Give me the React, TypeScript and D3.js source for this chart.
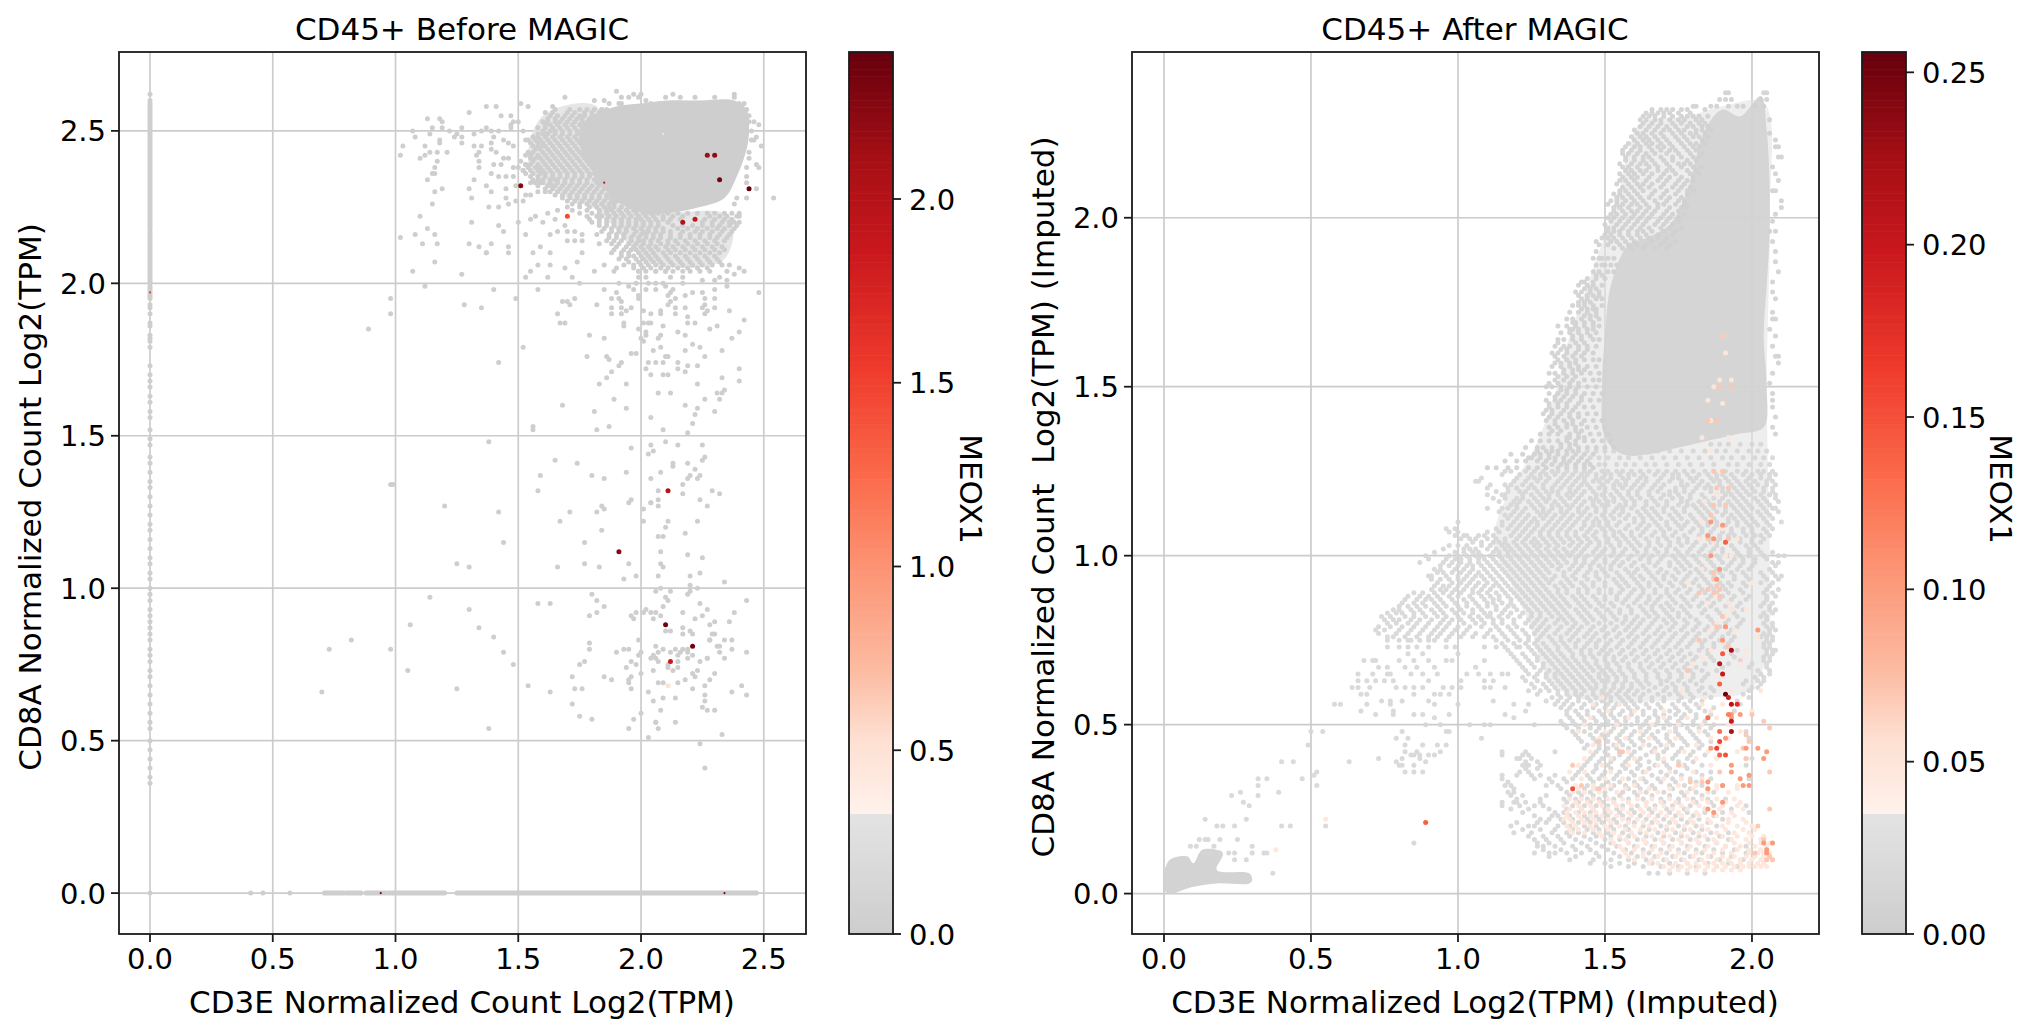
import React from 'react';
import * as d3 from 'd3';

// ---------- Tick labels ----------
const leftXTicks = [0, 0.5, 1, 1.5, 2, 2.5];
const leftYTicks = [0, 0.5, 1, 1.5, 2, 2.5];
const rightXTicks = [0, 0.5, 1, 1.5, 2];
const rightYTicks = [0, 0.5, 1, 1.5, 2];
const leftBarTicks = [0, 0.5, 1, 1.5, 2];
const rightBarTicks = [0, 0.05, 0.1, 0.15, 0.2, 0.25];

// ---------- Colormap (gray under the cut, then Reds) ----------
const cmapPos = [0, 0.135, 0.1351, 0.22, 0.3, 0.42, 0.52, 0.64, 0.77, 0.88, 1];
const cmapCol = ['#cdcdcd', '#e3e3e3', '#fff2ec', '#fee0d2', '#fcbba1', '#fc9272', '#fb6a4a', '#ef3b2c', '#cb181d', '#a50f15', '#67000d'];

// ---------- LEFT panel (values in hundredths) ----------
// saturated centre of the cloud, outline
const leftCore = [178,254,190,258,200,259,211,260,224,260,238,260,243,257,244,250,243,244,239,235,234,228,224,225,211,223,201,223,190,227,184,232,180,237,176,243,175,250];
// less saturated skirt of the cloud, outline
const leftWash = [160,255,182,258,182,234,200,224,236,222,234,208,206,206,196,212,182,224,170,228,158,234,154,240];
// x = 0 column: solid runs [y0,y1] then single dots
const leftColumnRuns = [[259,218],[217,200],[199,195]];
const leftColumnDots = [262,260,193,192,190,187,186,183,182,181,179,173,170,168,166,163,161,158,156,152,149,147,143,141,138,135,133,130,127,124,121,119,116,113,110,108,105,103,100,98,96,93,91,89,87,85,83,80,78,76,73,71,68,65,62,59,56,54,50,47,44,41,38,36,0];
// y = 0 row: solid runs [x0,x1] then single dots
const leftRowRuns = [[71,79],[80,86],[88,96],[97,120],[125,247]];
const leftRowDots = [41,46,57];
const leftGrayPairs = [107,204,116,207,127,203,112,199,98,195,98,190,89,185,128,193,135,192,140,198,149,195,158,198,153,202,155,204,158,206,162,202,163,206,169,205,172,202,174,207,175,200,181,204,185,206,189,204,190,205,137,210,146,210,156,210,163,210,176,210,168,194,170,194,173,195,171,193,166,190,167,187,169,187,182,193,185,198,190,197,188,195,191,195,192,194,188,192,192,192,188,190,192,190,194,191,196,192,193,187,193,186,179,183,185,182,152,179,142,174,178,176,186,176,187,175,192,174,191,173,196,177,198,177,188,171,186,169,183,167,194,167,189,162,168,160,181,158,194,159,156,153,156,152,182,152,187,153,204,156,209,152,219,151,221,154,222,157,223,159,218,160,230,158,226,162,232,162,231,164,233,164,234,165,240,168,240,172,233,169,223,167,212,164,207,164,204,170,209,170,211,170,218,171,202,172,203,174,206,174,209,174,215,174,215,172,219,173,223,173,205,178,208,179,210,176,211,176,218,178,224,179,226,176,233,178,221,180,237,182,240,184,242,188,236,191,248,197,200,182,202,183,201,181,207,182,208,183,215,184,218,183,199,185,202,184,201,187,203,187,204,187,209,186,219,187,222,187,228,185,231,186,226,190,227,191,230,192,225,192,226,193,230,195,226,195,225,197,221,197,218,196,218,192,219,189,214,192,214,190,208,191,208,190,201,191,204,190,211,193,212,194,214,195,211,196,212,197,199,196,199,195,202,198,206,198,210,199,213,198,230,198,235,199,235,201,197,198,195,199,191,200,198,200,203,200,206,200,209,200,217,200,230,201,225,201,232,202,235,204,238,203,240,205,242,204,217,202,212,202,210,204,206,204,202,202,199,204,199,202,
138,148,196,146,204,147,210,148,215,147,225,147,205,145,203,144,226,143,225,142,219,141,213,141,213,140,165,142,174,141,159,137,180,137,185,136,194,138,204,136,208,138,222,139,224,137,219,136,220,137,223,136,217,134,98,134,99,134,158,132,207,132,217,131,229,132,232,131,207,129,224,129,227,127,196,129,195,128,204,128,204,128,207,127,201,126,120,127,142,125,171,125,184,127,185,126,182,125,167,122,201,122,211,122,223,122,210,120,184,119,218,118,207,117,209,117,
144,115,177,115,208,112,219,111,225,110,125,108,130,107,166,107,177,108,183,107,195,108,208,108,209,107,224,105,220,104,207,104,198,104,193,103,234,102,220,101,223,100,206,99,208,100,212,99,220,99,219,98,180,98,114,97,182,96,185,94,158,95,163,95,210,97,211,96,209,94,224,95,243,96,227,93,238,92,130,93,179,91,182,92,196,91,198,92,197,90,201,92,202,93,204,92,206,92,205,90,208,91,217,92,222,90,225,91,230,89,228,88,236,89,106,88,134,87,140,84,210,86,212,86,217,87,220,86,217,85,221,85,229,85,230,85,228,83,228,83,234,83,237,83,82,83,73,80,98,80,199,83,179,82,179,80,144,79,148,75,193,80,195,80,206,81,209,80,212,79,214,80,217,80,219,80,231,81,232,81,237,80,243,79,190,79,200,79,199,78,205,78,207,79,215,78,216,79,219,79,221,78,232,79,204,77,206,77,207,76,211,75,215,76,219,77,224,76,227,77,227,77,234,77,196,76,198,75,175,75,177,76,105,73,194,74,211,74,215,74,205,73,213,73,221,72,223,73,200,72,196,71,172,71,185,71,222,71,230,72,228,70,188,70,195,70,195,69,207,69,209,69,215,69,218,70,226,68,125,67,154,68,173,67,176,67,196,67,221,67,241,68,237,66,243,65,70,66,163,66,203,66,226,65,209,64,214,64,205,63,226,63,172,62,225,61,227,60,230,60,208,60,200,59,175,58,180,57,197,57,206,56,206,56,214,56,195,54,207,54,138,54,233,52,203,51,224,49,226,41];
const leftEdgePairs = [130,256,137,258,141,258,143,255,147,255,151,259,154,258,161,256,164,258,169,261,113,254,118,254,119,253,107,250,108,248,114,249,115,251,119,251,122,250,127,251,127,248,127,246,124,248,125,249,132,249,135,250,137,251,139,250,142,250,144,247,146,246,147,252,148,253,150,253,147,251,152,250,103,245,102,242,112,245,118,247,118,246,110,241,112,242,114,243,117,243,117,240,121,243,116,238,115,236,113,234,116,236,132,245,135,245,134,243,133,242,134,240,134,238,139,246,140,248,139,244,141,243,144,241,146,241,148,245,153,247,156,248,160,245,161,249,153,242,151,240,140,239,143,239,148,238,150,238,153,239,152,237,139,236,142,235,145,235,148,235,132,234,137,232,139,230,145,231,149,232,116,230,119,231,130,231,131,228,115,226,138,225,142,225,145,228,146,226,149,227,152,227,153,229,155,229,158,230,161,230,155,233,158,234,159,233,164,232,165,234,110,222,113,218,108,216,111,213,116,216,117,213,102,215,131,220,142,219,144,217,130,213,134,212,139,213,137,210,146,212,150,220,153,216,155,221,157,222,160,220,162,223,165,221,169,219,166,217,163,216,170,217,173,217,176,216,170,214,173,214,176,214,183,213,159,212,
190,263,197,262,200,262,213,262,238,262,181,260,185,260,192,261,192,259,202,260,248,252,249,245,254,228,247,231,247,248,247,239,248,238,243,235,243,233,243,228,239,228,238,226,240,222,238,220,237,220];
const leftEdgeRows = [
[261,195,199,210,216,222,230,238],[259,187,191,204,208,213,218,224,229,234,240,242],[257,184,190,196,202,207,212,217,222,228,232,237,241,243],[255,244],[253,244,246],[250,245],[247,245,246],[243,244],[241,244],[238,243],
[256,164,170,173,177,180,183,186,188],[254,162,165,168,171,174,176,179,182,184],[252,161,163,166,169,172,175,178,181],[250,160,163,165,168,171,174,177],[248,156,158,161,164,167,170,173,176],[246,155,158,160,163,166,169,172,175],[244,157,159,162,165,168,171,174],[242,155,158,161,164,167,170,173,176],[240,156,160,163,166,169,172,175,178],[238,154,157,159,162,165,168,171,174,177,180],[236,153,156,159,161,164,167,170,173,176,179,181],[234,156,160,163,166,169,172,175,178,181,183],[232,158,162,165,168,171,174,177,180,183,185],[230,163,166,169,172,175,178,181,184,187],[228,168,171,174,177,180,183,186,188],[226,172,175,178,181,184,187,189,196,198],[224,166,172,178,183,186,188,191,194,197],
[222,178,182,184,187,190,193,196,199,202,205,209,213,217,228,232,235,239],[220,180,183,186,189,192,195,198,201,204,207,211,225,229,233,236,240],[218,185,188,191,194,197,200,203,206,209,215,219,223,227,231,234,238],[216,182,187,190,193,197,200,202,205,208,212,216,220,224,228,232,236],[214,186,189,192,196,199,201,204,207,211,214,218,222,226,230,234],[212,190,194,197,200,203,206,210,213,217,221,225,229,233],[210,188,192,195,199,202,205,209,212,216,220,224,228,232],[208,191,194,198,201,204,207,211,215,219,223,227,231],[206,193,197,200,203,206,209,213,217,221,225,229,233,236],[204,199,202,206,210,213,217,220,224,228],
[257,165,171,175,178,181,184,186],[255,163,166,169,172,175,177,180,183,186],[253,160,162,165,167,170,173,176,179,182],[251,158,161,164,167,170,173,176,179],[249,158,160,162,165,168,171,174,177],[247,154,157,159,162,165,168,171,174,177],[245,156,158,161,164,167,170,173,176],[243,154,156,160,163,166,169,172,175],[241,155,157,159,162,165,168,171,174,177],[239,153,155,158,161,164,167,170,173,176,179],[237,152,155,158,160,163,166,169,172,175,178],[235,155,158,161,164,167,170,173,176,179,182],[233,157,160,163,166,169,172,175,178,182,184],[231,161,164,167,170,173,176,179,182,185,188],[229,165,168,171,174,177,180,183,186,188],[227,170,173,176,179,182,185,188,190],[225,170,175,179,182,185,187,189,192,195,198],[223,175,180,183,186,189,192,195,198,201,204,207,211,215,219,223,227,230,234,237,240],[221,179,183,186,189,192,195,198,200,203,206,209,212,216,226,230,234,237],[219,183,186,189,192,195,198,201,204,207,213,217,221,225,229,232,236,239],[217,184,188,191,194,198,201,203,206,209,212,217,222,225,229,233,237],[215,187,190,193,196,199,202,205,208,212,216,220,224,228,231,235],[213,188,191,195,198,201,204,208,211,215,219,223,227,231],[211,189,193,196,198,201,204,207,211,214,218,222,226,230,234],[209,192,195,197,200,203,206,210,214,218,222,226,230],[207,195,199,202,205,208,212,216,220,224,228,232],[205,197,201,204,208,211,215,219,223,227]
];
// coloured cells [x, y, MEOX1]
const leftColored = [[227,242,2.15],[230,242,2.2],[244,231,2.4],[151,232,2.25],[232,234,2.35],[170,222,1.45],[217,220,2.05],[222,221,1.9],[211,132,2.0],[191,112,2.25],[210,88,2.35],[221,81,2.35],[212,76,1.85],[211,68,0.5]];
// cells nearly hidden behind gray ones: only a sliver shows
const leftSlivers = [[94,0,2.3],[234,0,2.3],[0,197,1.5],[209,249,0.5],[185,233,1.9]];

// ---------- RIGHT panel (values in hundredths) ----------
const rightCore = [158,192,164,194,172,198,178,208,184,226,190,232,196,230,203,236,205,226,206,210,206,195,205,180,204,165,205,150,204,138,195,136,185,134,175,132,165,130,156,130,150,135,149,150,150,165,152,180];
// less saturated body of the cloud, outline
const rightWash = [162,228,178,230,190,233,204,234,206,200,205,150,206,100,205,70,199,60,185,58,140,58,130,65,125,78,118,92,112,104,118,120,125,130,132,145,138,165,146,185,154,205,158,220];
const rightBlob = [0,3,0,6,2,10,8,11,10,9,13,13,20,12,18,7,29,6,30,4,29,3,18,3,10,2,2,0,0,1];
const rightGrayUpperRows = [
[237,191,192,204,205],[235,189,191,193,203,205],[233,180,181,186,188,192,195,197,201,204],
[231,164,166,168,170,172,175,179],[229,162,164,167,169,172,175,177,181,183,206],[227,162,165,168,171,174,178,180,183,185],[225,161,163,166,169,173,176,179,181,184,206],[223,160,163,165,168,171,175,178,183,208],[221,157,160,162,165,168,170,173,177,180,182,208,209],[219,156,158,161,164,167,171,175,179,183],[218,209,210],[217,157,160,163,166,170,173,178,181],[215,156,158,161,165,168,172,176,180,183,207],[213,155,158,160,163,166,170,174,179,182,208],[211,155,157,160,164,168,171,175,178,180,209],[209,156,159,162,165,169,173,176,179],[208,208,207],[207,153,155,158,161,166,170,174,178],[205,152,154,157,160,163,167,171,175,177,210],[203,153,155,158,162,165,168,172,176,178,210],[201,152,154,157,160,163,166,170,173,177,208],[199,152,155,158,161,164,168,171,175,207],[197,151,153,156,159,162,165,169,172,176],[196,206,208],[195,150,152,155,158,161,164,168,173],[193,147,152,154,157,160,166,170,174,207],[191,153,156,159,163,167,171],[190,147,208],[188,148],[187,208],[186,149],[184,209],[183,147,149],[181,142,143,146,207],[179,143,145,147],[178,207],[177,141,144,146,148],[176,208],[175,141,143,145],[173,142,144,146,147],[172,207],[171,143,145,147],[170,207,208],[169,139,140,143,146],[167,138,139,141,144,146,206],[165,139,142,145,208],[163,134,140,143],[162,207],[161,135,137,141,144],[159,133,136,139,142,209,208],[157,133,135,138,140,209],[155,136,139,141,143],[154,207],[153,134,137,140],[151,131,134,138,141,206],[149,135,137,140],[148,207],[147,133,136,139,142],[146,207],[145,131,134,137,141],[144,207],[143,130,132,136,139],[141,131,134,138,141,208],[139,133,137,139,142],[138,207],[137,132,135,140,142],[136,208],[135,137,138,141,143],[133,135,138,140],[131,127,130,132,134,137,139,141],[129,124,125,128,131,133,136,139,142],[127,129,132,135,137,140,143,145],
[232,166,169,171,173,176,178,184],[230,163,165,167,170,173,176,178,180,182,185],[228,163,166,169,173,176,179,182,184],[226,160,164,167,170,172,175,177,181,183,186],[224,159,162,164,167,170,174,177,180,182,185],[222,158,161,164,166,169,172,176,179,181,184],[220,156,159,162,166,169,172,174,178,181],[218,157,160,163,165,169,173,176,180,182],[216,155,159,162,164,167,171,175,177,179],[214,157,159,162,164,168,171,173,178,181],[212,156,159,161,165,169,172,176,180],[210,154,158,161,163,166,170,174,177],[208,155,157,160,163,167,171,175,178,180],[206,154,156,159,162,165,169,172,176],[204,151,154,156,159,161,164,168,170,174,177],[202,153,156,159,161,164,167,171,175],[200,151,153,156,159,162,165,169,172,175],[198,150,154,157,160,163,167,170,173],[196,151,153,155,158,161,163,166,170,174],[194,149,151,153,156,159,162,165,168,171],[192,148,151,155,158,161,164,169,172],
[188,146,149,151,153],[186,147,150,152,154],[184,146,148,151,153],[182,144,147,150],[180,141,144,146,149],[178,140,142,145,148],[176,142,144,147,149],[174,139,141,143,146,149],[172,138,141,144,147],[170,137,139,142,145,148],[168,134,137,140,143,146,148],[166,135,138,141,144,147],[164,134,136,139,142,146,148],[162,133,136,138,141,144,147],[160,132,134,137,140,143,146],[158,134,137,140,143,146,148],[156,132,135,138,141,144,147],[154,131,133,136,139,142,145,148],[152,133,136,139,143,146,148],[150,130,132,135,138,141,144,147],[148,131,134,137,140,143,146,149],[146,130,133,135,138,142,145,148],[144,131,134,137,140,143,146],[142,129,132,135,138,141,144,147],[140,130,133,136,139,143,146,149],[138,131,134,137,140,144,147,150],[136,128,131,134,138,141,145,148,151],[134,125,128,131,134,137,140,143,146,149,152],[132,123,127,129,132,135,138,141,144,147,150,153],[130,118,122,126,128,131,134,137,140,143,146],[128,116,120,123,127,130,133,136,138,141,144],[126,110,113,117,120,124,127,130,134,137,140,143,146]
];
const rightGrayLowerRows = [
[133,186,189,192,196,200,203],[131,144,147,150,153,156,160,164,168,172,176,180,184,188,191,195,199,202,205],[129,145,148,151,155,158,162,166,170,174,178,182,186,190,193,197,201,204,207],[127,148,150,154,157,160,164,167,171,175,179,183,187,192,195,199,203,206],
[124,115,121,125,128,130,133,136,139,142,144,147,150,152,155,158,160,163,167,170,173,175,178,182,185,188,190,193,197,200,203,206,208],[122,106,107,119,123,127,130,134,137,140,143,146,148,151,154,157,161,164,168,172,176,180,183,187,189,192,195,198,201,205,207],[120,110,117,120,124,126,129,132,135,138,141,145,148,150,153,156,159,162,166,169,174,177,181,184,186,190,194,197,200,204,207],[118,110,115,116,122,125,128,131,134,137,139,142,147,149,152,155,158,161,165,170,172,175,179,183,188,191,193,196,199,203,206,208],[116,114,119,121,124,127,130,133,136,140,143,146,148,151,153,157,160,164,167,171,176,178,182,185,189,192,195,198,202,205,209],[114,110,115,117,120,123,126,129,132,135,138,141,144,147,150,154,156,159,163,166,170,173,177,181,184,187,191,194,197,200,204,207,208],[112,116,118,121,124,128,130,133,136,139,142,145,149,152,155,158,162,165,168,172,175,179,183,186,190,193,196,199,203,206],[110,100,115,119,122,125,127,131,134,137,140,143,146,148,151,155,160,163,167,171,174,178,181,185,188,192,195,198,201,205,210],[108,96,99,113,117,120,123,126,129,132,135,138,142,145,149,152,157,161,164,169,172,176,180,183,187,190,193,197,200,204,207],[106,99,102,103,107,109,112,118,121,124,128,131,134,137,140,143,146,150,153,156,159,162,166,170,173,177,182,185,189,192,194,198,201,203,206],[104,105,108,112,114,116,119,122,125,127,130,133,136,139,142,145,148,151,155,158,161,165,168,172,175,178,181,186,188,191,196,200,203],[102,95,102,104,106,110,113,116,118,121,124,127,130,133,136,140,143,147,150,153,157,160,164,167,171,174,179,183,187,190,194,199,202],[100,89,97,100,103,106,108,111,114,117,120,123,126,129,132,135,138,141,144,148,152,155,159,163,166,170,173,176,180,184,188,192,196,199,204,209,211],[98,87,95,98,101,104,107,110,113,116,119,122,125,128,131,134,137,140,143,146,150,153,156,160,165,168,172,175,178,182,186,190,193,197,201,207,209],[96,92,94,99,102,105,109,112,115,118,121,124,127,130,134,138,141,145,149,152,157,161,164,169,174,177,181,184,188,191,195,199,206],[94,90,91,96,100,103,106,108,111,114,117,120,123,126,129,133,136,139,143,147,151,155,159,162,166,170,173,178,183,187,190,194,198,204,208,210],[92,93,98,101,104,107,110,113,116,119,122,125,128,131,135,138,142,146,150,154,157,161,165,168,172,176,180,185,189,192,197,203,207],[90,91,94,96,99,102,105,108,111,115,118,121,124,127,130,134,137,141,144,148,152,156,160,163,167,171,175,179,183,187,191,196,205,209],
[88,83,87,90,93,97,100,104,108,111,114,117,120,123,126,129,132,135,139,142,146,150,154,158,162,165,169,172,176,181,186,190,194,199,205,208],[86,81,85,88,92,95,99,103,106,110,112,115,118,122,125,128,131,134,137,141,144,148,152,156,160,164,167,171,174,178,183,187,192,196,204,207],[84,78,80,84,87,91,94,98,101,105,108,113,116,120,124,127,130,133,136,140,143,147,151,155,159,163,166,170,173,177,184,188,193,197,206,208],[82,74,77,82,85,89,93,96,100,104,107,110,111,114,117,121,125,128,132,135,138,142,145,149,153,157,161,165,168,172,175,179,185,190,195,203,205],[80,76,79,83,86,90,94,97,102,106,109,112,115,119,123,126,129,133,137,140,144,148,152,156,159,162,166,171,174,178,182,187,191,196,204,207],[78,72,75,80,84,88,92,95,99,103,111,114,118,122,127,130,134,138,141,145,149,153,157,160,164,168,172,176,180,184,188,193,206,208],[76,76,78,82,86,90,93,97,101,105,109,112,116,120,124,128,131,135,139,143,146,150,154,158,161,165,169,173,177,181,186,190,194,203,205,207],[75,76,80,83,84,87,90,92,96],[74,115,119,123,126,129,133,136,140,144,147,151,155,159,163,167,171,175,179,183,187,192,204,206],[73,76,80,83,86,90,96,99,109,113,121],[72,117,125,128,131,134,138,142,145,149,152,156,160,164,168,172,176,182,185,195,205,207,208],[71,83,88,100],[70,119,123,127,130,133,136,139,143,146,150,153,157,161,165,169,173,177,181,186,194,204,206],[69,68,71,72,80,85,90,96,98,109],[68,121,125,129,132,135,138,141,144,147,151,154,158,162,166,170,174,178,184,192,200,205],[67,73,76,82,86,92,106],[66,123,128,131,134,137,140,143,146,149,152,155,159,163,167,171,175,179,183,188,202,206],[65,66,71,76,77,84,88,93,103,107,111,115,117],[64,122,126,130,133,136,139,142,145,148,151,154,157,160,164,168,172,176,180,184,201,204],[63,66,69,72,75,78,90,101,109,112],[62,125,129,132,135,138,141,144,147,150,153,156,159,162,165,169,173,177,181,197,203],[61,64,66,70,79,82,85,88,95,98,101,109,111,116],[60,124,128,131,134,137,140,143,146,149,152,155,158,161,165,170,174,178,182,187,199],[59,67,69,85,92,94,97],[58,132,135,138,141,144,147,150,152,155,158,162,166,170,176,180,186,199],[57,74,77,81,90,112],[56,58,60,69,77,92,100,119,124,133,136,139,143,147,151,154,157,160,164,168,173,177,181,196],[54,67,78,123,137,140,144,148,152,156,159,163,167,172,175,179,184,194],[53,72,78,85,88,97,116],[52,92,119,138,142,146,150,153,157,161,165,168,172,176,181,185],[50,89,94,104,109,111,126,136,140,145,149,151,155,159,163,167,172,176,180,187],[48,50,54,81,96,97,139,143,147,152,156,160,164,168,174,179,184,198],[46,79,83,108,141,146,150,154,158,162,167,171,176,181,199],[44,49,82,88,93,96,144,148,153,156,160,165,169,173,178,183],[42,82,86,94,115,123,133,147,150,155,160,166,170,175,180],[41,84,85,87,90,92,115,124],[40,73,81,87,120,121,125,145,149,153,158,162,168,173,178,198,200],[39,40,44,63,79,89],[38,80,81,85,122,123,124,128,143,147,151,156,162,167,171,177,183,198],[36,52,82,85,88,121,124,141,146,150,155,159,163,169,174,181,186],[35,51,115,120,125],[34,32,35,47,115,126,131,136,139,145,148,153,158,163,168,173,179,186,199],[32,32,52,116,118,130,134,144,149,153,157,161,166,172,177,183,190],[30,26,39,117,119,137,141,145,150,156,160,164,170,176,181,187],[29,23,32,118],[28,120,128,136,140,144,148,153,158,163,169,175,180,185,191],[27,27,115,119,120],[26,29,115,121,126,129,139,143,147,151,156,161,167,173,179,187,198],[24,122,133,136,141,145,150,155,160,166,172,178,184,190,199],[22,14,28,128,131,135,139,144,148,153,158,164,170,176,182,190],[20,18,20,24,40,43,55,118,124,126,134,138,143,147,152,157,163,169,175,181,188],[18,119,125,132,137,141,146,151,156,162,168,174,180,186,192],[16,12,14,15,19,25,126,130,135,140,145,150,155,161,167,173,179,185,192],[15,85],[14,9,11,17,30,127,129,133,139,144,149,154,160,166,172,178,184,191,198],[12,14,16,19,22,24,30,34,35,126,131,133,137,142,147,153,159,165,171,177,183,190,198],[10,24,28,138,146,152,158,164,170,176,182,189,197],[8,152,158,163,169,175,181,188,195],[6,37,165,168,172,178,184],
[125,116,118,123,126,129,132,134,137,140,143,145,149,151,154,156,159,162,165,168,171,174,177,180,184,187,191,195,198,202,204,207],[123,108,120,124,126,128,131,135,138,141,143,147,149,152,156,158,162,164,169,173,175,179,181,186,188,191,194,199,203,206],[121,111,116,118,122,125,129,133,136,139,142,144,149,153,155,157,160,163,167,170,176,178,182,185,189,193,196,199,202,205,208],[119,113,117,121,123,127,130,132,134,138,140,143,146,150,154,158,161,165,168,172,174,177,180,186,190,192,195,198,201,204,207],[117,112,116,120,122,126,129,131,135,138,141,145,147,150,153,156,159,162,166,169,173,176,179,184,187,190,194,197,201,204,208],[115,118,120,125,128,132,134,137,139,142,146,149,151,155,157,160,164,168,171,175,178,180,183,186,189,193,196,199,203,206],[113,114,119,122,127,129,131,135,137,141,143,147,150,153,156,161,164,167,170,174,177,182,185,188,191,195,198,202,205,209],[111,117,120,123,126,129,132,135,138,141,144,147,150,153,157,160,163,166,169,173,176,180,184,187,192,194,197,200,204,207],[109,115,118,121,124,127,130,133,136,139,143,146,148,151,154,158,162,165,168,171,175,177,182,185,188,191,195,199,202,206],[107,97,100,110,114,119,122,125,128,131,134,137,140,144,147,150,153,155,159,163,167,170,174,179,183,186,190,193,197,200,205],[105,101,104,106,110,113,116,120,123,126,129,132,135,138,141,144,147,151,154,157,160,164,168,171,175,178,182,186,189,192,196,200,204],[103,97,100,103,108,111,115,117,120,123,126,128,131,134,138,141,144,148,152,155,159,162,165,169,172,176,180,184,188,193,198,201],[101,92,99,102,105,107,112,114,117,119,122,125,128,131,134,137,139,142,146,149,153,156,161,164,168,171,175,178,182,186,190,195,199,203,207],[99,90,96,99,101,104,107,109,112,115,118,121,124,127,130,133,136,140,143,147,150,154,158,162,165,169,174,177,181,185,189,194,197,201,205],[97,94,97,100,103,105,108,111,114,117,120,123,126,129,132,135,139,142,145,148,152,155,159,163,167,172,176,179,183,187,192,196,200,208],[95,93,95,98,101,104,107,110,113,116,119,122,125,128,131,136,140,144,147,150,154,158,160,165,168,171,175,179,182,186,189,193,197,203,207],[93,91,94,97,100,102,105,109,112,115,118,121,124,127,130,132,137,140,144,148,153,156,160,163,167,170,174,177,181,184,188,194,199,205,209],[91,92,95,97,100,103,106,109,112,114,117,120,123,126,129,133,136,139,143,146,150,155,158,162,165,169,173,177,182,186,190,193,198,206],[89,85,88,92,95,98,101,105,107,110,113,116,119,122,125,128,131,134,137,141,144,148,152,155,159,163,167,171,174,178,184,188,192,197,204,207],[87,82,86,89,91,94,98,102,105,109,112,114,118,121,124,127,130,133,136,140,143,147,150,154,157,161,165,168,173,177,180,185,189,193,198,205],[85,80,83,86,89,93,96,100,103,107,110,113,117,119,123,126,129,132,135,138,142,145,149,153,158,162,166,169,172,176,179,182,186,191,195,203,206],[83,76,79,81,85,88,92,95,99,102,105,109,111,115,118,122,125,128,131,134,137,141,144,148,152,155,159,164,167,171,175,178,183,189,194,204,207],[81,75,78,80,84,87,91,95,98,101,105,108,112,115,119,124,127,130,134,136,139,143,146,150,154,157,160,163,167,170,173,177,181,186,192,197,205],[79,73,77,81,85,89,93,96,100,104,108,113,117,120,125,128,131,135,139,142,146,150,154,158,161,165,169,173,177,181,185,189,195,205,207],[77,73,79,83,87,91,94,98,102,106,110,115,119,123,126,129,133,137,140,144,147,151,155,159,163,167,170,174,178,182,187,192,204,206],[75,113,117,121,124,127,132,135,138,141,145,148,152,156,160,164,168,172,176,180,184,189,193,205,207],[73,116,120,124,127,130,134,137,140,143,147,150,154,158,162,166,170,174,178,183,187,191,204,206],[71,118,122,126,129,132,135,139,142,145,148,151,155,159,163,167,171,175,179,185,193,205,207],[69,120,124,127,131,134,137,140,143,147,150,153,156,160,164,168,172,176,180,187,196,204,206],[67,122,126,129,133,136,139,142,145,148,151,155,158,162,165,169,173,177,181,190,199,205],[65,124,127,130,133,135,138,141,144,148,150,153,156,160,164,168,172,176,180,185,203,206],[63,123,127,131,134,137,140,143,146,149,151,154,157,161,164,169,171,175,179,183,198,202,204],[61,126,130,133,136,139,142,145,147,150,153,156,159,163,167,171,174,178,183,186,200,202],
[59,127,134,137,140,142,146,149,151,154,157,160,163,168,172,175,179,184,197],[57,130,134,137,141,145,149,152,156,159,162,166,170,175,179,183,195],[55,135,138,142,146,150,153,158,161,165,169,174,178,182,187],[53,137,141,144,149,152,155,159,163,167,170,174,177,181,186],[51,135,139,143,147,151,154,157,161,164,168,171,175,180,184],[49,137,141,145,148,153,157,162,165,170,174,178,182,186],[47,140,145,149,151,155,159,163,166,171,175,180,185],[45,142,147,151,155,159,163,168,172,177,182,186],[43,143,148,151,154,158,162,167,171,176,182],[41,122,146,151,155,159,164,168,174,179,184],[39,123,127,144,148,152,157,161,165,170,175,180],[37,123,127,142,147,152,157,161,165,172,178],[35,128,133,140,144,149,154,160,166,171,176,183],[33,117,132,137,146,151,155,160,164,169,174,181],[31,119,135,143,147,152,158,162,167,173,179,185],[29,122,130,138,142,146,150,155,161,166,172,177,183],[27,123,128,137,141,145,149,153,158,164,170,175,181,186],[25,118,124,131,137,142,146,150,154,159,165,171,177,184,193],[23,126,132,134,138,143,147,151,156,162,168,174,180,187],[21,120,127,130,136,141,145,149,154,160,166,172,178,185],[19,122,128,133,139,144,148,153,158,165,171,177,183],[17,124,129,134,138,143,147,152,158,164,170,176,182,189],[15,127,131,136,142,147,152,158,164,170,176,182,188],[13,129,135,140,145,151,157,163,169,175,181,187,194],[11,131,140,148,155,161,167,173,179,186,193],[9,145,150,155,160,166,172,178,185,192]
];
const rightPaleRows = [
[165,190],[160,191],[152,189,193],[146,185],[131,186],[118,188],[110,183],[105,182,195],[100,186,191,193],[92,178,200],[84,193,198],[80,188],[76,202],[72,186,198],[68,180,196],[64,190],[60,176,193,203],[58,149,184],[56,146,155,183,190],[54,151,160,170,186,200],[52,145,158,170,178,188],[50,143,154,166,175,183,192],[48,141,150,162,172,182,189,196],[46,148,157,165,174,186,192],[44,146,154,163,171,181,189],[42,145,158,167,177,185,195],[40,143,152,160,170,181,188],[38,141,149,158,168,176,186],[36,138,143,152,164,172,180],[34,142,150,156,162,170,176,183],[32,140,146,152,160,175,181,188,195],[30,139,143,148,154,162,168,178,185,192],[28,138,142,146,151,156,161,166,172,178,183,188,194],[26,136,141,145,149,154,159,164,170,176,182,190,195],[24,137,140,143,147,152,158,163,169,175,181,187,193],[22,136,138,142,146,151,156,161,167,173,179,185,192,197],[20,137,140,145,150,155,160,165,171,177,183,190,195,200],[18,139,143,148,153,159,164,170,176,182,188,194,199],[16,152,157,163,169,175,181,187,193,198,203],[14,155,161,167,173,179,185,191,196,201,205],[12,157,163,169,175,181,187,193,199,202,204,206],[10,160,166,171,177,183,188,192,196,200,203,205,207],[8,170,173,176,179,182,185,188,191,194,197,199,201,203,205],[7,172,175,178,181,184,187,190,193,196],[22,55],[13,38],
[31,141,146,150,157,165,172,180,188,195],[27,140,144,148,153,158,164,169,174,180,185,191,196],[25,138,142,146,151,156,162,167,173,178,184,189,197],[23,137,141,145,149,154,159,165,171,176,182,188,194],[21,139,143,147,152,158,163,168,174,180,186,192,198],[19,138,141,146,151,157,162,167,173,179,185,191,197,201],[17,149,155,160,166,172,178,184,190,195,200,204],[15,153,158,164,170,176,182,188,194,199,203,206],[13,156,160,166,172,178,184,190,195,199,203,205],[11,158,163,168,174,180,185,190,194,198,201,204,206],[9,165,168,174,178,181,184,187,190,193,196,199,202,204],
[150,187],[145,190],[140,186],[135,183,192],[125,189],[116,184],[108,190],[104,187],[96,183],[88,188],[86,185,192],[82,191],[78,186,194],[74,190],[70,183,197]
];
const rightPeachPairs = [187,93,188,91,187,89,189,88,190,82,191,79,188,79,182,89,182,75,178,66,192,73,200,53,204,51,206,49,199,45,198,40,198,47,206,36,197,43,189,36,183,33,179,33,175,38,155,42,156,42,148,45,139,38,142,32,148,31,206,25,202,20,204,16,206,11,205,10,207,10,201,12,190,165,189,150,193,150,185,140,188,140,187,125,190,125,188,120,192,120,187,115,191,115,186,112,185,105,192,105,187,95,185,90,189,90];
const rightSalmonPairs = [185,33,185,31,199,35,199,32,196,34,197,32,193,38,193,36,190,32,190,27,187,24,185,25,204,40,205,42,202,43,198,43,186,43,191,46,193,53,193,52,196,53,190,75,188,93,189,96,191,79,202,78,204,15,207,15,205,12,205,13,186,110,190,109,185,106,187,105,186,100];
// strongest cells [x, y, MEOX1]
const rightColored = [[193,72,0.225],[189,68,0.21],[190,65,0.2],[190,71,0.145],[191,59,0.256],[193,56,0.21],[195,56,0.18],[192,58,0.19],[193,51,0.2],[193,48,0.22],[189,45,0.16],[188,43,0.16],[185,52,0.13],[189,41,0.14],[191,41,0.15],[139,31,0.15],[189,48,0.13],[192,53,0.12],[189,62,0.14],[191,104,0.14],[89,21,0.14]];

const W = 2029, H = 1032;
const rowsToPts = (rows: number[][]) => rows.flatMap(([y, ...xs]) => xs.map((x) => [x, y]));
const pairsToPts = (a: number[]) => a.flatMap((v, i) => (i % 2 === 0 ? [[v, a[i + 1]]] : []));
const TICK = 29, LABEL = 31;
const FONT = '"DejaVu Sans", sans-serif';
const INK = '#1a1a1a';

function colorFor(max: number) {
  const s = d3.scaleLinear<string>().domain(cmapPos).range(cmapCol).clamp(true);
  return (v: number) => s(v / max);
}

function Frame(p: any) {
  const { x, y, xt, yt, title, xl, yl, yLabelX, titleX, xlX, children, clip } = p;
  const [x0, x1] = x.range();
  const [y0, y1] = y.range();
  return (
    <g fontFamily={FONT}>
      <defs>
        <clipPath id={clip}><rect x={x0} y={y1} width={x1 - x0} height={y0 - y1} /></clipPath>
      </defs>
      <g stroke="#cccccc" strokeWidth={1.7}>
        {xt.map((t: number) => <line key={t} x1={x(t)} x2={x(t)} y1={y0} y2={y1} />)}
        {yt.map((t: number) => <line key={t} x1={x0} x2={x1} y1={y(t)} y2={y(t)} />)}
      </g>
      <g clipPath={`url(#${clip})`}>{children}</g>
      <rect x={x0} y={y1} width={x1 - x0} height={y0 - y1} fill="none" stroke={INK} strokeWidth={1.8} />
      {xt.map((t: number) => (
        <g key={t}>
          <line x1={x(t)} x2={x(t)} y1={y0} y2={y0 + 8} stroke={INK} strokeWidth={1.8} />
          <text x={x(t)} y={y0 + 35} textAnchor="middle" fontSize={TICK} fill="#000">{t.toFixed(1)}</text>
        </g>
      ))}
      {yt.map((t: number) => (
        <g key={t}>
          <line x1={x0} x2={x0 - 8} y1={y(t)} y2={y(t)} stroke={INK} strokeWidth={1.8} />
          <text x={x0 - 13} y={y(t) + 10.5} textAnchor="end" fontSize={TICK} fill="#000">{t.toFixed(1)}</text>
        </g>
      ))}
      <text x={titleX} y={40} textAnchor="middle" fontSize={LABEL} fill="#000">{title}</text>
      <text x={xlX} y={1013} textAnchor="middle" fontSize={LABEL} fill="#000">{xl}</text>
      <text transform={`translate(${yLabelX},${(y0 + y1) / 2 + 4}) rotate(-90)`} textAnchor="middle" fontSize={LABEL} fill="#000" style={{ whiteSpace: 'pre' }}>{yl}</text>
    </g>
  );
}

function ColorBar(p: any) {
  const { x0, x1, top, bottom, max, ticks, labelX, digits } = p;
  const y = d3.scaleLinear().domain([0, max]).range([bottom, top]);
  const col = colorFor(max);
  const n = 256;
  const steps = d3.range(n).map((i) => (i / n) * max);
  return (
    <g fontFamily={FONT}>
      {steps.map((v) => (
        <rect key={v} x={x0} width={x1 - x0} y={y(v + max / n)} height={y(v) - y(v + max / n) + 0.6} fill={col(v + max / n / 2)} />
      ))}
      <rect x={x0} y={top} width={x1 - x0} height={bottom - top} fill="none" stroke={INK} strokeWidth={1.8} />
      {ticks.map((t: number) => (
        <g key={t}>
          <line x1={x1} x2={x1 + 8} y1={y(t)} y2={y(t)} stroke={INK} strokeWidth={1.8} />
          <text x={x1 + 16} y={y(t) + 10.5} fontSize={TICK} fill="#000">{t.toFixed(digits)}</text>
        </g>
      ))}
      <text transform={`translate(${labelX},${(top + bottom) / 2 - 4}) rotate(90)`} textAnchor="middle" fontSize={LABEL} fill="#000">MEOX1</text>
    </g>
  );
}

export default function App() {
  const TOP = 52, BOTTOM = 934, R = 2.5;
  const WASH = '#e2e2e2';

  // left panel
  const lx = d3.scaleLinear().domain([-0.1263, 2.672]).range([119, 806]);
  const ly = d3.scaleLinear().domain([-0.1341, 2.7587]).range([BOTTOM, TOP]);
  const lCol = colorFor(2.4);
  const lPx = (a: number[]) => [lx(a[0] / 100), ly(a[1] / 100)] as [number, number];
  const lGray = [...pairsToPts(leftGrayPairs), ...pairsToPts(leftEdgePairs), ...rowsToPts(leftEdgeRows)];
  const closed = d3.line().curve(d3.curveCatmullRomClosed);
  const corePath = closed(pairsToPts(leftCore).map(lPx)) as string;
  const leftWashPath = closed(pairsToPts(leftWash).map(lPx)) as string;

  // right panel
  const rx = d3.scaleLinear().domain([-0.1088, 2.228]).range([1132, 1819]);
  const ry = d3.scaleLinear().domain([-0.1196, 2.4905]).range([BOTTOM, TOP]);
  const rCol = colorFor(0.256);
  const rPx = (a: number[]) => [rx(a[0] / 100), ry(a[1] / 100)] as [number, number];
  const coreR = closed(pairsToPts(rightCore).map(rPx)) as string;
  const washR = closed(pairsToPts(rightWash).map(rPx)) as string;
  const blobR = closed(pairsToPts(rightBlob).map(rPx)) as string;

  const dots = (pts: number[][], px: any, fill: string, key: string, op = 0.9) => (
    <g fill={fill} opacity={op}>
      {pts.map((a, i) => {
        const [cx, cy] = px(a);
        return <circle key={key + i} cx={cx} cy={cy} r={R} />;
      })}
    </g>
  );

  return (
    <svg width={W} height={H} viewBox={`0 0 ${W} ${H}`} style={{ position: 'absolute', left: 0, top: 0, background: '#fff' }}>
      <Frame x={lx} y={ly} xt={leftXTicks} yt={leftYTicks} clip="cl" title="CD45+ Before MAGIC" titleX={462} xlX={462}
        xl="CD3E Normalized Count Log2(TPM)" yl="CD8A Normalized Count Log2(TPM)" yLabelX={41}>
        {leftColumnRuns.map(([a, b], i) => (
          <line key={'lc' + i} x1={lx(0)} x2={lx(0)} y1={ly(a / 100)} y2={ly(b / 100)} stroke={lCol(0.02)} strokeWidth={5} strokeLinecap="round" />
        ))}
        {leftRowRuns.map(([a, b], i) => (
          <line key={'lr' + i} x1={lx(a / 100)} x2={lx(b / 100)} y1={ly(0)} y2={ly(0)} stroke={lCol(0.02)} strokeWidth={5} strokeLinecap="round" />
        ))}
        {dots(leftColumnDots.map((y) => [0, y]), lPx, lCol(0.02), 'lcd', 1)}
        {dots(leftRowDots.map((x) => [x, 0]), lPx, lCol(0.02), 'lrd', 1)}
        <path d={leftWashPath} fill={WASH} opacity={0.85} />
        <path d={corePath} fill={lCol(0.02)} />
        {dots(lGray, lPx, lCol(0.02), 'lg', 1)}
        {leftColored.map((c, i) => {
          const [cx, cy] = lPx(c);
          return <circle key={'lcol' + i} cx={cx} cy={cy} r={R} fill={lCol(c[2])} />;
        })}
        {leftSlivers.map((c, i) => {
          const [cx, cy] = lPx(c);
          return <circle key={'ls' + i} cx={cx} cy={cy} r={1.1} fill={lCol(c[2])} />;
        })}
      </Frame>
      <ColorBar x0={849} x1={893} top={TOP} bottom={BOTTOM} max={2.4} ticks={leftBarTicks} labelX={960} digits={1} />

      <Frame x={rx} y={ry} xt={rightXTicks} yt={rightYTicks} clip="cr" title="CD45+ After MAGIC" titleX={1475} xlX={1475}
        xl="CD3E Normalized Log2(TPM) (Imputed)" yl="CD8A Normalized Count  Log2(TPM) (Imputed)" yLabelX={1054}>
        <path d={washR} fill={WASH} opacity={0.6} />
        <path d={coreR} fill={rCol(0.008)} opacity={0.88} />
        <path d={blobR} fill={rCol(0.006)} opacity={0.95} />
        {dots(rowsToPts(rightGrayUpperRows), rPx, rCol(0.006), 'ru')}
        {dots(rowsToPts(rightGrayLowerRows), rPx, rCol(0.014), 'rl')}
        {dots(rowsToPts(rightPaleRows), rPx, rCol(0.048), 'rp', 0.95)}
        {dots(pairsToPts(rightPeachPairs), rPx, rCol(0.07), 'rh', 0.95)}
        {dots(pairsToPts(rightSalmonPairs), rPx, rCol(0.105), 'rs', 0.95)}
        {rightColored.map((c, i) => {
          const [cx, cy] = rPx(c);
          return <circle key={'rcol' + i} cx={cx} cy={cy} r={R} fill={rCol(c[2])} />;
        })}
      </Frame>
      <ColorBar x0={1862} x1={1906} top={TOP} bottom={BOTTOM} max={0.2559} ticks={rightBarTicks} labelX={1990} digits={2} />
    </svg>
  );
}
